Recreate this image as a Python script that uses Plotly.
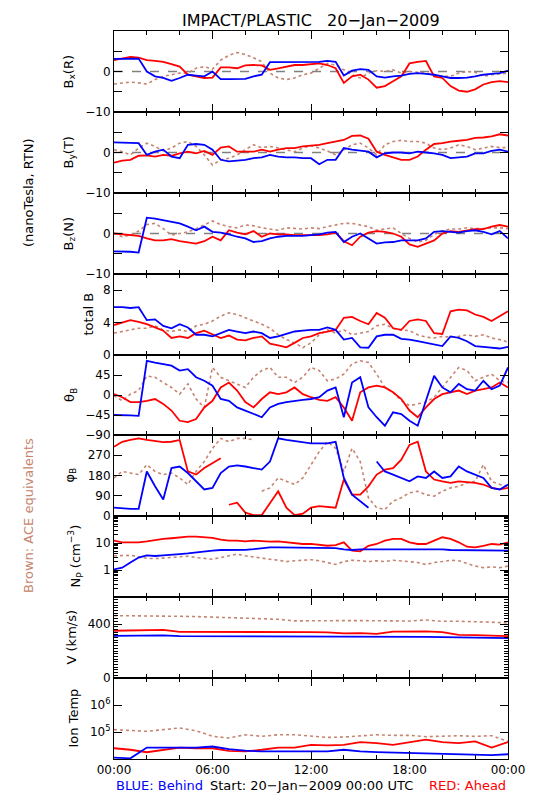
import plotly.graph_objects as go

# ---------------- time grids (hours since 20-Jan-2009 00:00 UTC) ----------------
T30 = [i * 0.5 for i in range(49)]
T60 = [float(i) for i in range(25)]

# ---------------- Bx(R) nT ----------------
BX_BLUE = [3.1,3.1,3.2,3.2,0.0,-1.2,-1.6,-2.3,-1.6,-0.8,-1.0,-1.2,0.0,-1.9,-1.9,-1.9,-1.8,-1.2,-0.8,2.3,2.3,2.3,2.3,2.3,2.3,2.4,2.6,2.4,-1.0,0.2,0.6,0.4,-1.2,-1.5,-1.2,-1.0,-0.6,-0.4,-0.6,-0.8,-1.2,-1.6,-1.6,-1.5,-1.2,-0.8,-0.6,-0.4,0.2]
BX_RED = [2.8,3.2,3.6,3.4,2.8,2.6,2.4,1.8,1.2,-0.8,-1.2,-1.6,-1.5,1.0,1.0,0.8,1.5,1.6,1.5,0.4,0.8,1.2,1.6,1.6,1.8,2.0,1.6,0.8,-2.8,-1.2,-0.8,-2.0,-4.0,-3.6,-2.4,-1.2,2.0,2.4,2.6,-1.2,-1.6,-3.6,-4.7,-5.0,-4.4,-3.2,-2.6,-2.4,-2.6]
BX_BROWN = [-3.1,-2.8,-2.6,-2.8,-3.1,-2.0,-1.2,-0.8,-0.4,-0.4,0.8,1.2,0.6,2.8,4.0,4.7,4.2,3.4,2.4,-0.4,-1.6,-2.0,-1.6,-0.8,-0.4,0.8,2.0,1.6,0.4,-0.8,-1.6,-0.4,0.2,0.0,0.4,-0.4,0.0,-0.2,-0.4,-0.8,-1.2,-1.2,-0.4,0.0,-0.2,-1.2,-0.8,-0.6,-0.4]

# ---------------- By(T) nT ----------------
BY_BLUE = [2.5,2.5,2.4,2.3,-0.6,0.2,0.7,-1.0,-1.4,1.9,2.1,1.9,0.7,-1.8,-2.2,-2.0,-1.8,-1.4,-1.2,-0.6,-1.0,-1.2,-1.2,-1.4,-1.4,-2.9,-1.8,-1.8,1.1,0.7,0.4,0.2,-1.2,-0.2,0.0,0.0,-0.2,0.2,0.0,-0.2,-0.6,-1.4,-1.2,-1.0,-0.2,-0.2,0.4,0.7,0.2]
BY_RED = [-2.5,-2.0,-1.8,-0.8,-0.7,-1.0,-0.6,-0.8,-0.2,0.2,-0.2,0.4,-0.6,1.2,1.5,0.2,0.2,0.2,0.7,0.2,0.7,1.1,1.1,1.5,1.7,1.9,2.3,2.7,3.1,4.1,4.2,3.4,0.2,-0.6,-1.2,-1.8,-1.8,-1.0,0.7,2.1,2.3,2.7,2.9,3.1,3.6,3.7,4.0,4.5,4.2]
BY_BROWN = [0.7,0.2,-0.6,1.1,2.3,1.5,0.4,1.1,2.3,2.7,1.5,-0.6,-3.1,-1.8,-1.4,-0.6,0.7,1.9,1.2,1.5,1.1,0.7,0.2,1.1,1.7,1.1,0.4,-0.6,0.7,1.9,2.3,1.1,-0.6,1.9,2.7,3.0,2.7,2.7,2.3,1.1,0.7,1.1,1.9,1.5,0.7,1.1,1.5,1.2,1.2]

# ---------------- Bz(N) nT ----------------
BZ_BLUE = [-4.4,-4.4,-4.5,-4.7,3.9,3.7,3.3,2.9,2.5,1.7,0.8,1.7,0.4,0.2,-0.2,-0.8,-1.2,-2.1,-1.9,-1.2,-0.8,-0.6,-0.6,-0.6,-0.4,-0.2,0.2,0.4,-2.1,-0.8,0.0,-1.2,-2.5,-2.2,-2.1,-1.7,-1.7,-1.7,-1.2,0.4,0.6,0.4,0.2,0.6,0.8,0.4,-0.2,0.6,-1.2]
BZ_RED = [0.0,-0.2,-0.4,-0.6,-1.2,-1.7,-1.7,-1.4,-1.9,-2.2,-2.5,-1.9,-0.8,-1.7,0.8,0.2,-0.2,0.6,-0.8,0.0,-0.2,-0.2,-0.4,-0.4,-0.4,-0.4,-0.2,0.2,-1.9,-2.9,-0.8,0.2,0.6,0.4,0.0,-0.8,-2.7,-3.3,-2.5,-1.7,0.0,0.6,0.4,0.8,1.1,1.1,1.7,2.1,1.7]
BZ_BROWN = [0.0,-0.8,-0.4,0.6,2.2,2.5,1.2,-0.4,0.0,0.4,1.2,2.1,3.1,2.2,1.7,1.4,2.1,1.9,1.4,1.1,0.8,1.4,1.2,1.1,1.4,1.2,1.7,2.1,2.5,2.5,2.1,1.7,0.8,1.1,1.4,0.0,-1.2,-2.1,-1.7,-0.2,0.6,1.1,1.1,1.4,1.2,1.2,1.4,1.4,1.2]

# ---------------- total B nT ----------------
BT_BLUE = [5.9,5.9,5.8,5.9,4.3,4.4,3.6,3.3,3.8,3.4,2.5,2.5,2.3,2.7,3.1,2.9,2.7,2.9,2.7,2.1,2.3,2.6,2.9,3.0,3.1,3.1,3.4,3.1,1.9,2.1,0.95,0.9,2.3,2.5,2.5,2.0,1.9,1.7,1.5,1.3,1.1,2.3,2.1,1.7,1.1,1.0,0.9,0.8,1.0]
BT_RED = [3.7,4.0,4.3,4.1,3.8,3.4,3.0,2.1,2.3,2.1,2.7,3.0,2.5,2.1,2.4,1.9,1.8,2.1,2.3,1.4,1.2,0.95,1.5,2.1,2.3,2.7,2.9,3.1,4.6,4.7,4.2,3.8,5.2,4.6,3.3,3.1,4.2,4.4,4.2,2.7,2.6,5.4,5.6,5.5,5.0,4.7,4.2,4.8,5.4]
BT_BROWN = [2.7,2.9,3.1,3.3,3.3,3.6,3.1,2.9,3.1,2.9,3.6,3.8,4.2,4.8,5.2,5.0,4.6,4.2,3.8,3.3,2.5,1.9,1.5,0.9,1.5,2.5,3.1,2.7,3.1,2.5,2.7,2.9,3.6,3.8,3.3,3.1,3.0,2.5,2.2,2.1,2.3,2.2,2.3,2.5,2.3,2.5,2.1,1.9,1.6]

# ---------------- theta_B deg ----------------
TH_BLUE = [-45,-45,-46,-47,77,73,70,66,55,58,40,32,21,-9,-13,-28,-35,-43,-50,-28,-20,-16,-13,-11,-9,-5,10,17,-50,28,40,-28,-50,-69,-39,-43,-58,-69,-13,43,17,6,25,13,10,32,13,21,62]
TH_RED = [2,-5,-16,-16,-13,-9,-20,-35,-58,-61,-54,-28,-13,17,28,10,-16,-28,-9,6,2,6,17,2,-5,-11,-13,-5,-28,-58,6,17,21,17,6,-9,-35,-50,-28,-9,2,6,10,2,10,13,17,28,17]
TH_BROWN = [-1,-13,2,10,43,40,28,17,2,25,-9,-28,62,40,32,25,17,40,55,62,40,40,28,40,62,55,32,36,47,70,77,73,47,17,6,-13,-24,-20,-16,-5,17,40,62,55,32,40,47,32,28]

# ---------------- phi_B deg ----------------
PH_BLUE = [37,34,32,32,198,132,73,213,220,191,154,118,125,191,220,225,220,213,206,242,345,338,333,328,323,323,323,330,169,95,66,37,242,198,184,169,154,176,169,198,169,176,220,198,184,169,125,118,140]
PH_RED = [308,330,338,345,338,333,328,330,338,198,184,213,235,257,50,59,15,4,4,60,110,37,4,10,37,44,40,37,162,95,95,132,184,206,213,250,316,330,198,162,154,147,154,151,147,140,125,118,125]
PH_BROWN = [169,198,191,184,228,198,184,191,169,140,198,242,301,345,330,345,345,338,110,125,169,154,140,169,228,286,330,301,198,301,242,81,37,29,66,81,103,110,95,88,110,125,132,147,154,228,154,140,132]

# ---------------- Np cm^-3 ----------------
NP_BLUE = [1.06,1.22,1.9,2.9,3.5,3.3,3.5,3.6,3.9,4.1,4.5,4.9,5.2,5.5,5.5,5.6,5.6,5.9,6.5,6.9,6.9,6.9,6.9,6.9,6.5,6.5,6.5,6.5,5.8,5.5,5.8,5.8,5.8,5.8,5.9,5.9,6.1,6.1,6.1,5.9,5.8,5.5,5.5,5.5,5.5,5.3,5.2,5.2,5.2]
NP_RED = [12.2,10.6,10.6,10.6,11.5,13.0,14.1,15.0,16.3,17.3,17.3,16.3,15.4,13.3,12.2,12.2,11.5,12.2,11.5,11.2,11.5,10.6,9.7,9.2,9.2,8.4,7.9,8.4,10.6,5.2,4.9,7.9,9.2,12.2,14.1,14.1,10.6,9.2,9.2,12.2,16.3,14.1,10.6,7.3,6.9,7.9,9.2,8.7,10.6]
NP_BROWN = [3.35,3.5,3.5,3.1,2.7,2.65,2.7,2.9,3.1,3.25,2.9,2.65,2.5,2.9,3.35,3.9,3.35,3.1,2.7,2.5,2.3,2.05,2.2,2.3,2.4,2.2,1.9,1.6,2.05,2.3,2.2,2.05,2.2,2.05,2.3,2.2,2.05,1.9,1.6,1.9,2.05,2.3,2.2,1.73,1.4,1.22,1.3,1.22,1.4]

# ---------------- V km/s (hourly) ----------------
V_BLUE = [312,312,317,315,310,310,310,310,310,308,308,308,308,308,308,307,305,305,305,305,303,300,300,298,296]
V_RED = [350,352,357,357,342,342,342,342,345,345,345,343,340,338,330,333,327,343,345,345,340,320,318,312,310]
V_BROWN = [462,462,462,462,457,455,452,447,445,440,435,423,425,425,425,425,425,423,422,430,420,420,418,413,408]

# ---------------- Ion temperature K (hourly) ----------------
TI_BLUE = [11200,10600,26600,26600,25000,26600,29000,23000,20500,19000,19000,19000,19000,19000,22000,19000,18000,17500,16000,16000,15400,15400,15000,14000,15000]
TI_RED = [25000,22000,17800,22000,26600,25000,25000,20000,19000,22000,26600,26600,33500,32000,33500,42000,39000,33500,42000,52000,42000,39000,45000,26600,42000]
TI_BROWN = [122000,112000,106000,122000,141000,112000,69000,60000,79000,69000,79000,79000,69000,63000,65000,73000,79000,75000,75000,67000,69000,73000,69000,73000,45000]

X_TICKVALS = [0, 6, 12, 18, 24]
X_TICKTEXT = ["00:00", "06:00", "12:00", "18:00", "00:00"]

BLUE = "#0000ff"
RED = "#ff0000"
BROWN = "#c68470"
FONT = "DejaVu Sans"

W, H = 550, 800
ML, MR, MT, MB = 106, 50, 23, 49
PW, PH = W - ML - MR, H - MT - MB
TOPS = [23, 104, 185, 266, 347, 427, 508, 589, 670]
BOTS = [104, 185, 266, 347, 427, 508, 589, 670, 751]


def px_x(px):
    return (px - ML) / PW


def px_y(py):
    return (H - MB - py) / PH


def break_wrap(t, v):
    xs, ys = [], []
    for i, (a, b) in enumerate(zip(t, v)):
        if i > 0 and abs(b - v[i - 1]) > 180:
            xs.append(None)
            ys.append(None)
        xs.append(a)
        ys.append(b)
    return xs, ys


panels = [
    (T30, BX_BLUE, BX_RED, BX_BROWN),
    (T30, BY_BLUE, BY_RED, BY_BROWN),
    (T30, BZ_BLUE, BZ_RED, BZ_BROWN),
    (T30, BT_BLUE, BT_RED, BT_BROWN),
    (T30, TH_BLUE, TH_RED, TH_BROWN),
    (T30, PH_BLUE, PH_RED, PH_BROWN),
    (T30, NP_BLUE, NP_RED, NP_BROWN),
    (T60, V_BLUE, V_RED, V_BROWN),
    (T60, TI_BLUE, TI_RED, TI_BROWN),
]

fig = go.Figure()
for i, (t, vb, vr, vw) in enumerate(panels):
    n = i + 1
    xa = "x" if n == 1 else f"x{n}"
    ya = "y" if n == 1 else f"y{n}"
    for vals, col, dash, wid in ((vw, BROWN, "dot", 1.6), (vr, RED, "solid", 1.8), (vb, BLUE, "solid", 1.8)):
        if i == 5:
            xs, ys = break_wrap(t, vals)
        else:
            xs, ys = t, vals
        fig.add_trace(go.Scatter(x=xs, y=ys, mode="lines", xaxis=xa, yaxis=ya,
                                 line=dict(color=col, width=wid, dash=dash),
                                 showlegend=False, hoverinfo="skip"))

axis_common = dict(showline=True, linecolor="black", linewidth=1, mirror="allticks",
                   ticks="inside", tickcolor="black", showgrid=False, zeroline=False,
                   tickfont=dict(family=FONT, size=12, color="black"))

layout = dict(width=W, height=H, margin=dict(l=ML, r=MR, t=MT, b=MB),
              paper_bgcolor="white", plot_bgcolor="white", showlegend=False,
              font=dict(family=FONT, size=12, color="black"))


def minor_ticks(vals, length=8):
    return dict(tickmode="array", tickvals=vals, ticks="inside", ticklen=length, tickcolor="black")


ycfg = [
    dict(range=[-10, 10], tickvals=[-10, 0], ticktext=["−10", "0"], minor=minor_ticks([-5, 5])),
    dict(range=[-10, 10], tickvals=[-10, 0], ticktext=["−10", "0"], minor=minor_ticks([-5, 5])),
    dict(range=[-10, 10], tickvals=[-10, 0], ticktext=["−10", "0"], minor=minor_ticks([-5, 5])),
    dict(range=[0, 10], tickvals=[0, 4, 8], ticktext=["0", "4", "8"]),
    dict(range=[-90, 90], tickvals=[-90, -45, 0, 45], ticktext=["−90", "−45", "0", "45"]),
    dict(range=[0, 360], tickvals=[0, 90, 180, 270], ticktext=["0", "90", "180", "270"]),
    dict(type="log", range=[-1, 2], tickvals=[1, 10], ticktext=["1", "10"],
         minor=minor_ticks([0.2, 0.3, 0.4, 0.5, 0.6, 0.7, 0.8, 0.9, 2, 3, 4, 5, 6, 7, 8, 9,
                            20, 30, 40, 50, 60, 70, 80, 90], 4)),
    dict(range=[0, 600], tickvals=[0, 400], ticktext=["0", "400"],
         minor=dict(ticks="inside", ticklen=4, tickcolor="black", dtick=20, tick0=0)),
    dict(type="log", range=[4, 7], tickvals=[1e5, 1e6],
         ticktext=["10<sup>5</sup>", "10<sup>6</sup>"]),
]

for i in range(9):
    n = i + 1
    xkey = "xaxis" if n == 1 else f"xaxis{n}"
    ykey = "yaxis" if n == 1 else f"yaxis{n}"
    yanchor = "x" if n == 1 else f"x{n}"
    xanchor = "y" if n == 1 else f"y{n}"
    dom = [px_y(BOTS[i]), px_y(TOPS[i])]
    xa = dict(axis_common, domain=[0, 1], anchor=xanchor, range=[0, 24],
              tickmode="array", tickvals=X_TICKVALS, ticktext=X_TICKTEXT, ticklen=8,
              showticklabels=(n == 9),
              minor=minor_ticks([2, 4, 8, 10, 14, 16, 20, 22], 4))
    if n != 1:
        xa["matches"] = "x"
    layout[xkey] = xa
    ya = dict(axis_common, domain=dom, anchor=yanchor, tickmode="array", ticklen=8)
    ya.update(ycfg[i])
    layout[ykey] = ya

shapes = []
for n in (1, 2, 3):
    shapes.append(dict(type="line", xref="x" if n == 1 else f"x{n}", yref="y" if n == 1 else f"y{n}",
                       x0=0, x1=24, y0=0, y1=0, layer="below",
                       line=dict(color="#808080", width=1.5, dash="dash")))
layout["shapes"] = shapes

ytitles = [
    ("B<sub>x</sub>(R)", 61), ("B<sub>y</sub>(T)", 61), ("B<sub>z</sub>(N)", 61),
    ("total B", 80), ("θ<sub>B</sub>", 62), ("φ<sub>B</sub>", 62),
    ("N<sub>P</sub> (cm<sup>−3</sup>)", 67), ("V (km/s)", 63), ("Ion Temp", 65),
]
ann = []
for i, (txt, xp) in enumerate(ytitles):
    ann.append(dict(text=txt, xref="paper", yref="paper", x=px_x(xp), y=px_y((TOPS[i] + BOTS[i]) / 2),
                    xanchor="center", yanchor="middle", textangle=-90, showarrow=False,
                    font=dict(family=FONT, size=13, color="black")))
ann.append(dict(text="(nanoTesla, RTN)", xref="paper", yref="paper", x=px_x(20), y=px_y(185),
                xanchor="center", yanchor="middle", textangle=-90, showarrow=False,
                font=dict(family=FONT, size=13, color="black")))
ann.append(dict(text="Brown: ACE equivalents", xref="paper", yref="paper", x=px_x(20), y=px_y(508),
                xanchor="center", yanchor="middle", textangle=-90, showarrow=False,
                font=dict(family=FONT, size=13, color=BROWN)))
ann.append(dict(text="IMPACT/PLASTIC   20−Jan−2009", xref="paper", yref="paper", x=px_x(303), y=px_y(1),
                xanchor="center", yanchor="top", showarrow=False,
                font=dict(family=FONT, size=16, color="black")))
ann.append(dict(text="BLUE: Behind", xref="paper", yref="paper", x=px_x(106), y=px_y(777),
                xanchor="left", yanchor="middle", showarrow=False,
                font=dict(family=FONT, size=13, color=BLUE)))
ann.append(dict(text="Start: 20−Jan−2009 00:00 UTC", xref="paper", yref="paper", x=px_x(303), y=px_y(777),
                xanchor="center", yanchor="middle", showarrow=False,
                font=dict(family=FONT, size=13, color="black")))
ann.append(dict(text="RED: Ahead", xref="paper", yref="paper", x=px_x(500), y=px_y(777),
                xanchor="right", yanchor="middle", showarrow=False,
                font=dict(family=FONT, size=13, color=RED)))
layout["annotations"] = ann

fig.update_layout(**layout)
fig.write_html("out.html")
